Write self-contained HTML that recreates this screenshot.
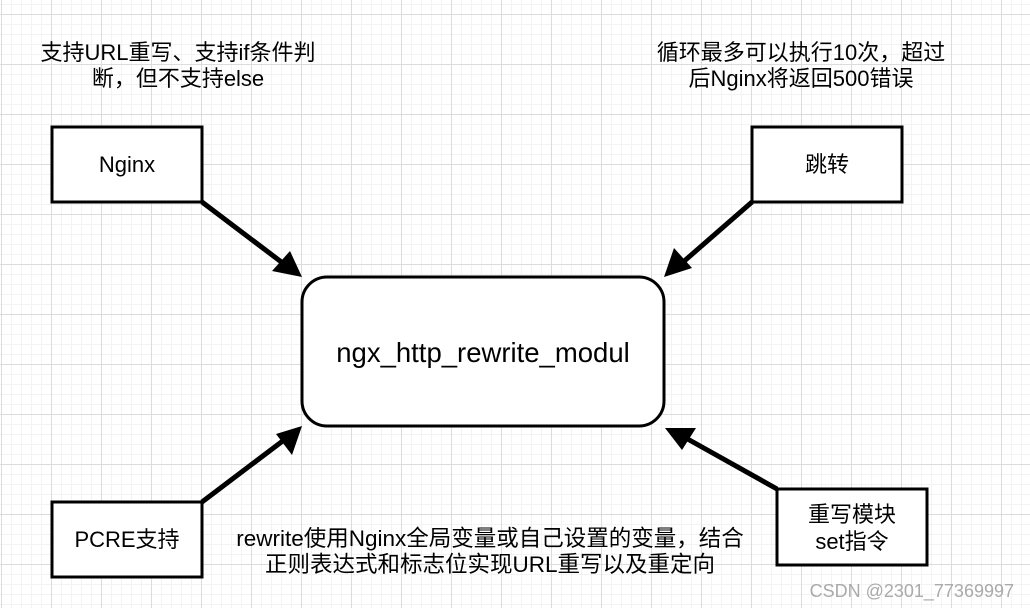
<!DOCTYPE html>
<html><head><meta charset="utf-8"><style>
body{margin:0;width:1030px;height:608px;overflow:hidden;background:#fff;font-family:"Liberation Sans","Noto Sans CJK SC",sans-serif;}
</style></head><body>
<svg width="1030" height="608" xmlns="http://www.w3.org/2000/svg">
<defs>
<pattern id="minor" width="10" height="10" patternUnits="userSpaceOnUse" x="1" y="4">
<path d="M0 0.5H10M0.5 0V10" stroke="#f3f3f3" stroke-width="1" fill="none"/>
</pattern>
<pattern id="major" width="50" height="50" patternUnits="userSpaceOnUse" x="1" y="14">
<path d="M0 0.5H50M0.5 0V50" stroke="#dcdcdc" stroke-width="1" fill="none"/>
</pattern>
</defs>
<rect width="1030" height="608" fill="url(#minor)"/>
<rect width="1030" height="608" fill="url(#major)"/>
<g font-size="22" text-anchor="middle" fill="#000">
<text x="178" y="60">支持URL重写、支持if条件判</text>
<text x="178" y="86">断，但不支持else</text>
<text x="801" y="60">循环最多可以执行10次，超过</text>
<text x="801" y="86">后Nginx将返回500错误</text>
<text x="490" y="546" font-size="22.5">rewrite使用Nginx全局变量或自己设置的变量，结合</text>
<text x="490" y="572" font-size="22.5">正则表达式和标志位实现URL重写以及重定向</text>
</g>
<g stroke="#000" stroke-width="3" fill="#fff">
<rect x="52" y="127" width="150" height="75"/>
<rect x="752" y="127" width="150" height="75"/>
<rect x="52" y="502" width="150" height="75"/>
<rect x="777" y="489" width="150" height="76"/>
<rect x="302" y="277" width="362" height="149" rx="25"/>
</g>
<g font-size="22" text-anchor="middle" fill="#000">
<text x="127" y="172">Nginx</text>
<text x="827" y="172">跳转</text>
<text x="127" y="547">PCRE支持</text>
<text x="852" y="522">重写模块</text>
<text x="852" y="549">set指令</text>
<text x="483" y="362" font-size="27.5">ngx_http_rewrite_modul</text>
</g>
<g stroke="#000" stroke-width="5" fill="none">
<line x1="202" y1="202" x2="284" y2="264"/>
<line x1="752" y1="202" x2="682" y2="263"/>
<line x1="202" y1="502" x2="284" y2="440"/>
<line x1="777" y1="489" x2="684" y2="437"/>
</g>
<g fill="#000">
<polygon points="302,277 272,271 290,251"/>
<polygon points="664,277 674,248 692,268"/>
<polygon points="302,426 292,455 276,434"/>
<polygon points="665,428 696,428 682,450"/>
</g>
<text x="1014" y="597" font-size="18" text-anchor="end" fill="#aaaaaa">CSDN @2301_77369997</text>
</svg>
</body></html>
